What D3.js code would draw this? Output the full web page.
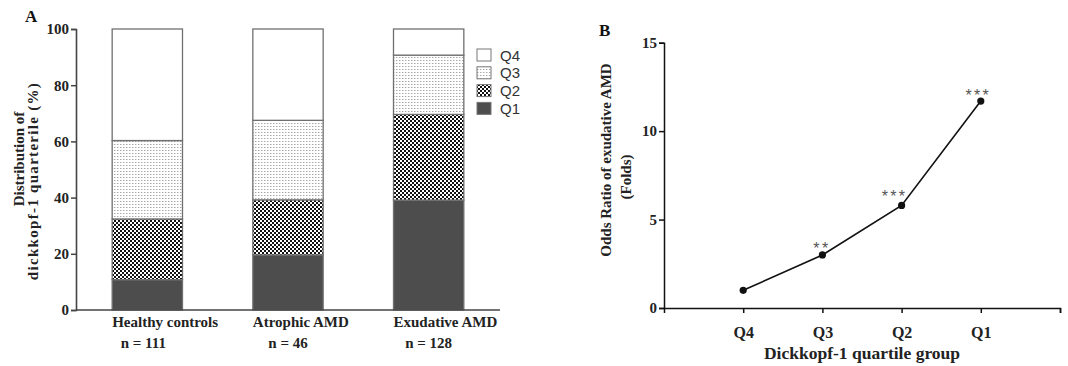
<!DOCTYPE html>
<html><head><meta charset="utf-8">
<script src="https://cdn.jsdelivr.net/npm/d3@7"></script>
<style>
body{margin:0;background:#fff;}
svg{display:block;}
</style></head>
<body>
<svg id="chart" width="1068" height="366"></svg>
<script>
// ---- Data ----
const groups = ["Healthy controls", "Atrophic AMD", "Exudative AMD"];
const groupN = ["n = 111", "n = 46", "n = 128"];
const quartiles = ["Q1", "Q2", "Q3", "Q4"];
const q1Pct = [10.8, 19.6, 39.1];
const q2Pct = [21.6, 19.6, 30.5];
const q3Pct = [27.9, 28.3, 21.1];
const q4Pct = [39.7, 32.5, 9.3];
const yTicksA = [0, 20, 40, 60, 80, 100];

const orGroups = ["Q4", "Q3", "Q2", "Q1"];
const orValues = [1.0, 3.0, 5.8, 11.7];
const orStars = ["", "**", "***", "***"];
const yTicksB = [0, 5, 10, 15];

const svg = d3.select("#chart");
const defs = svg.append("defs");

// patterns
const pQ3 = defs.append("pattern").attr("id","pq3").attr("patternUnits","userSpaceOnUse").attr("width",3).attr("height",3);
pQ3.append("rect").attr("width",3).attr("height",3).attr("fill","#fff");
pQ3.append("rect").attr("x",0).attr("y",0).attr("width",1).attr("height",1).attr("fill","#a8a8a8");
pQ3.append("rect").attr("x",1).attr("y",0).attr("width",1).attr("height",1).attr("fill","#d8d8d8");

const pQ2 = defs.append("pattern").attr("id","pq2").attr("patternUnits","userSpaceOnUse").attr("width",4).attr("height",4);
pQ2.append("rect").attr("width",4).attr("height",4).attr("fill","#111");
pQ2.append("rect").attr("x",0).attr("y",0).attr("width",2).attr("height",2).attr("fill","#fff");
pQ2.append("rect").attr("x",2).attr("y",2).attr("width",2).attr("height",2).attr("fill","#fff");

const fills = {Q1:"#4d4d4d", Q2:"url(#pq2)", Q3:"url(#pq3)", Q4:"#ffffff"};

const serif = "'Liberation Serif','Times New Roman',serif";
const sans = "'Liberation Sans',Arial,sans-serif";

// ---- Panel A ----
const xA = d3.scaleBand().domain(groups).range([77, 499]).paddingInner(0.5).paddingOuter(0.25);
const yA = d3.scaleLinear().domain([0, 100]).range([310, 29]);

const stackData = groups.map((g,i)=>({group:g, Q1:q1Pct[i], Q2:q2Pct[i], Q3:q3Pct[i], Q4:q4Pct[i]}));
const series = d3.stack().keys(quartiles)(stackData);

const gA = svg.append("g");
series.forEach(s=>{
  gA.selectAll(null).data(s).enter().append("rect")
    .attr("x", d=>xA(d.data.group))
    .attr("width", xA.bandwidth())
    .attr("y", d=>yA(d[1]))
    .attr("height", d=>yA(d[0])-yA(d[1]))
    .attr("fill", fills[s.key])
    .attr("stroke", "#707070")
    .attr("stroke-width", 1.3);
});

const axA = gA.append("g").attr("transform","translate(76,0)")
  .call(d3.axisLeft(yA).tickValues(yTicksA).tickSize(5).tickPadding(2));
axA.select(".domain").attr("stroke","#444").attr("stroke-width",1.6);
axA.selectAll(".tick line").attr("stroke","#444").attr("stroke-width",1.5);
axA.selectAll(".tick text").attr("font-family",serif).attr("font-weight","bold").attr("font-size",15).attr("fill","#222");

const axAx = gA.append("g").attr("transform","translate(0,310)")
  .call(d3.axisBottom(xA).tickSize(0).tickFormat(""));
axAx.select(".domain").attr("stroke","#444").attr("stroke-width",1.6).attr("d","M76,0H500");

gA.selectAll(null).data(groups).enter().append("text")
  .attr("x", d=>xA(d)).attr("y", 327)
  .attr("font-family",serif).attr("font-weight","bold").attr("font-size",15).attr("fill","#222")
  .text(d=>d);
gA.selectAll(null).data(groups).enter().append("text")
  .attr("x", (d,i)=>xA(d)+xA.bandwidth()/2 - (i===0?4:0)).attr("y", 348)
  .attr("text-anchor","middle")
  .attr("font-family",serif).attr("font-weight","bold").attr("font-size",15).attr("fill","#222")
  .text((d,i)=>groupN[i]);

// y title A
gA.append("text").attr("transform","translate(24,159) rotate(-90)")
  .attr("text-anchor","middle").attr("font-family",serif).attr("font-weight","bold").attr("font-size",15).attr("fill","#222")
  .text("Distribution of");
gA.append("text").attr("transform","translate(38,181) rotate(-90)")
  .attr("text-anchor","middle").attr("font-family",serif).attr("font-weight","bold").attr("font-size",15).attr("fill","#222")
  .attr("letter-spacing",1.3)
  .text("dickkopf-1 quarterile (%)");

svg.append("text").attr("x",25).attr("y",22).attr("font-family",serif).attr("font-weight","bold").attr("font-size",17).attr("fill","#111").text("A");

// legend
const legQ = ["Q4","Q3","Q2","Q1"];
const leg = svg.append("g");
legQ.forEach((q,i)=>{
  leg.append("rect").attr("x",477).attr("y",49+i*17.8).attr("width",14).attr("height",12)
    .attr("fill",fills[q]).attr("stroke","#777").attr("stroke-width",1);
  leg.append("text").attr("x",500).attr("y",60.5+i*17.8).attr("font-family",sans).attr("font-size",15).attr("fill","#333").text(q);
});

// ---- Panel B ----
const xB = d3.scaleLinear().domain([0,5]).range([664,1060]);
const yB = d3.scaleLinear().domain([0,15]).range([308,42.7]);
const gB = svg.append("g");

const axB = gB.append("g").attr("transform","translate(664,0)")
  .call(d3.axisLeft(yB).tickValues(yTicksB).tickSize(5).tickPadding(2));
axB.select(".domain").attr("stroke","#111").attr("stroke-width",1.5);
axB.selectAll(".tick line").attr("stroke","#111").attr("stroke-width",1.5);
axB.selectAll(".tick text").attr("font-family",serif).attr("font-weight","bold").attr("font-size",15).attr("fill","#222");

const axBx = gB.append("g").attr("transform","translate(0,308)")
  .call(d3.axisBottom(xB).tickValues([1,2,3,4,5]).tickSize(5).tickPadding(14)
    .tickFormat(d=> d<=orGroups.length ? orGroups[d-1] : ""));
axBx.select(".domain").attr("stroke","#111").attr("stroke-width",1.5);
axBx.selectAll(".tick line").attr("stroke","#111").attr("stroke-width",1.5);
axBx.selectAll(".tick text").attr("font-family",serif).attr("font-weight","bold").attr("font-size",16).attr("fill","#222");

const line = d3.line().x((d,i)=>xB(i+1)).y(d=>yB(d));
gB.append("path").datum(orValues).attr("d",line).attr("fill","none").attr("stroke","#111").attr("stroke-width",1.6);
gB.selectAll(null).data(orValues).enter().append("circle")
  .attr("cx",(d,i)=>xB(i+1)).attr("cy",d=>yB(d)).attr("r",3.6).attr("fill","#111");
const starDx = [0, -1.5, -8, -3.5];
const starDy = [0, -1, -3, 0];
gB.selectAll(null).data(orValues).enter().append("text")
  .attr("x",(d,i)=>xB(i+1)+starDx[i]+1).attr("y",(d,i)=>yB(d)+starDy[i])
  .attr("text-anchor","middle").attr("font-family",sans).attr("font-size",16).attr("fill","#555")
  .attr("letter-spacing",2.3)
  .text((d,i)=>orStars[i]);

gB.append("text").attr("x",862).attr("y",359).attr("text-anchor","middle")
  .attr("font-family",serif).attr("font-weight","bold").attr("font-size",17.5).attr("fill","#222")
  .text("Dickkopf-1 quartile group");

gB.append("text").attr("transform","translate(611,160) rotate(-90)")
  .attr("text-anchor","middle").attr("font-family",serif).attr("font-weight","bold").attr("font-size",15).attr("fill","#222")
  .text("Odds Ratio of exudative AMD");
gB.append("text").attr("transform","translate(631,177) rotate(-90)")
  .attr("text-anchor","middle").attr("font-family",serif).attr("font-weight","bold").attr("font-size",15).attr("fill","#222")
  .text("(Folds)");

svg.append("text").attr("x",599).attr("y",36).attr("font-family",serif).attr("font-weight","bold").attr("font-size",17).attr("fill","#111").text("B");
</script>
</body></html>
